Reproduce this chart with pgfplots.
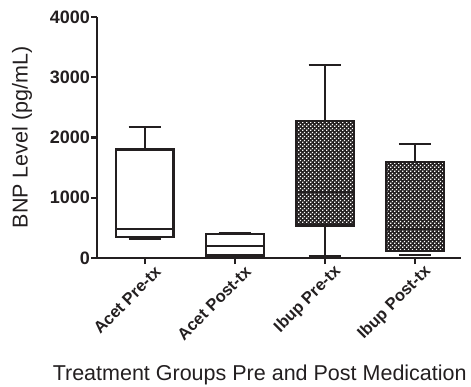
\documentclass[border=0pt]{standalone}
\usepackage{pgfplots}
\pgfplotsset{compat=1.18}
\usetikzlibrary{patterns}
\usepackage{fontspec}
\setmainfont{Liberation Sans}
\definecolor{ink}{HTML}{231F20}
\pgfdeclarepatternformonly{wdots}{\pgfqpoint{0pt}{0pt}}{\pgfqpoint{4.2pt}{4.2pt}}{\pgfqpoint{4.2pt}{4.2pt}}{%
  \pgfpathrectangle{\pgfqpoint{0pt}{0pt}}{\pgfqpoint{1.7pt}{1.7pt}}%
  \pgfpathrectangle{\pgfqpoint{2.1pt}{2.1pt}}{\pgfqpoint{1.7pt}{1.7pt}}%
  \pgfusepath{fill}}
\pgfplotsset{
  ln/.style={draw=ink, line width=2.2pt, mark=none, forget plot},
}
\begin{document}
\begin{tikzpicture}
\useasboundingbox (-97pt,-128pt) rectangle (374pt,258pt);
\begin{axis}[
  at={(0,0)}, anchor=south west,
  scale only axis, width=364pt, height=241pt,
  xmin=-0.53, xmax=3.51, ymin=0, ymax=4000,
  axis lines=left,
  axis line style={-, line width=2.2pt, draw=ink},
  tick style={line width=2.2pt, draw=ink},
  tick align=outside, major tick length=6pt,
  xtick={0,1,2,3},
  xticklabels={Acet Pre-tx, Acet Post-tx, Ibup Pre-tx, Ibup Post-tx},
  x tick label style={rotate=45, anchor=east, font=\bfseries\fontsize{16.5}{18}\selectfont, text=ink, inner sep=1pt, xshift=7pt, yshift=-13pt},
  ytick={0,1000,2000,3000,4000},
  y tick label style={font=\bfseries\fontsize{18}{20}\selectfont, text=ink, inner sep=1pt},
  scaled y ticks=false,
  /pgf/number format/1000 sep={},
  /pgf/number format/assume math mode=true,
  ylabel={BNP Level (pg/mL)},
  xlabel={Treatment Groups Pre and Post Medication},
  ylabel style={at={(axis description cs:-0.206,0.5)}, anchor=center},
  xlabel style={at={(axis description cs:0.447,-0.442)}, anchor=north},
  label style={font=\fontsize{21.5}{24}\selectfont, text=ink, inner sep=0pt},
  clip=false,
]
% ---- Acet Pre-tx (pos 0): lw 320, q1 350, med 480, q3 1800, uw 2180
\addplot[ln] coordinates {(0,1800) (0,2180)};
\addplot[ln] coordinates {(-0.18,2180) (0.18,2180)};
\addplot[ln] coordinates {(-0.18,320) (0.18,320)};
\addplot[ln, fill=white] coordinates {(-0.32,350) (0.32,350) (0.32,1800) (-0.32,1800)} -- cycle;
\addplot[ln] coordinates {(-0.32,480) (0.32,480)};
% ---- Acet Post-tx (pos 1): lw 20, q1 40, med 200, q3 400, uw 420
\addplot[ln] coordinates {(0.82,420) (1.18,420)};
\addplot[ln] coordinates {(0.82,20) (1.18,20)};
\addplot[ln, fill=white] coordinates {(0.68,40) (1.32,40) (1.32,400) (0.68,400)} -- cycle;
\addplot[ln] coordinates {(0.68,200) (1.32,200)};
% ---- Ibup Pre-tx (pos 2): lw 30, q1 540, med 1100, q3 2280, uw 3200
\addplot[ln] coordinates {(2,2280) (2,3200)};
\addplot[ln] coordinates {(1.82,3200) (2.18,3200)};
\addplot[ln] coordinates {(2,30) (2,540)};
\addplot[ln] coordinates {(1.82,30) (2.18,30)};
\addplot[ln, fill=ink, postaction={pattern=wdots, pattern color=white}] coordinates {(1.68,540) (2.32,540) (2.32,2280) (1.68,2280)} -- cycle;
\addplot[ln] coordinates {(1.68,1100) (2.32,1100)};
% ---- Ibup Post-tx (pos 3): lw 50, q1 120, med 480, q3 1590, uw 1890
\addplot[ln] coordinates {(3,1590) (3,1890)};
\addplot[ln] coordinates {(2.82,1890) (3.18,1890)};
\addplot[ln] coordinates {(2.82,50) (3.18,50)};
\addplot[ln, fill=ink, postaction={pattern=wdots, pattern color=white}] coordinates {(2.68,120) (3.32,120) (3.32,1590) (2.68,1590)} -- cycle;
\addplot[ln] coordinates {(2.68,480) (3.32,480)};
\end{axis}
\end{tikzpicture}
\end{document}
